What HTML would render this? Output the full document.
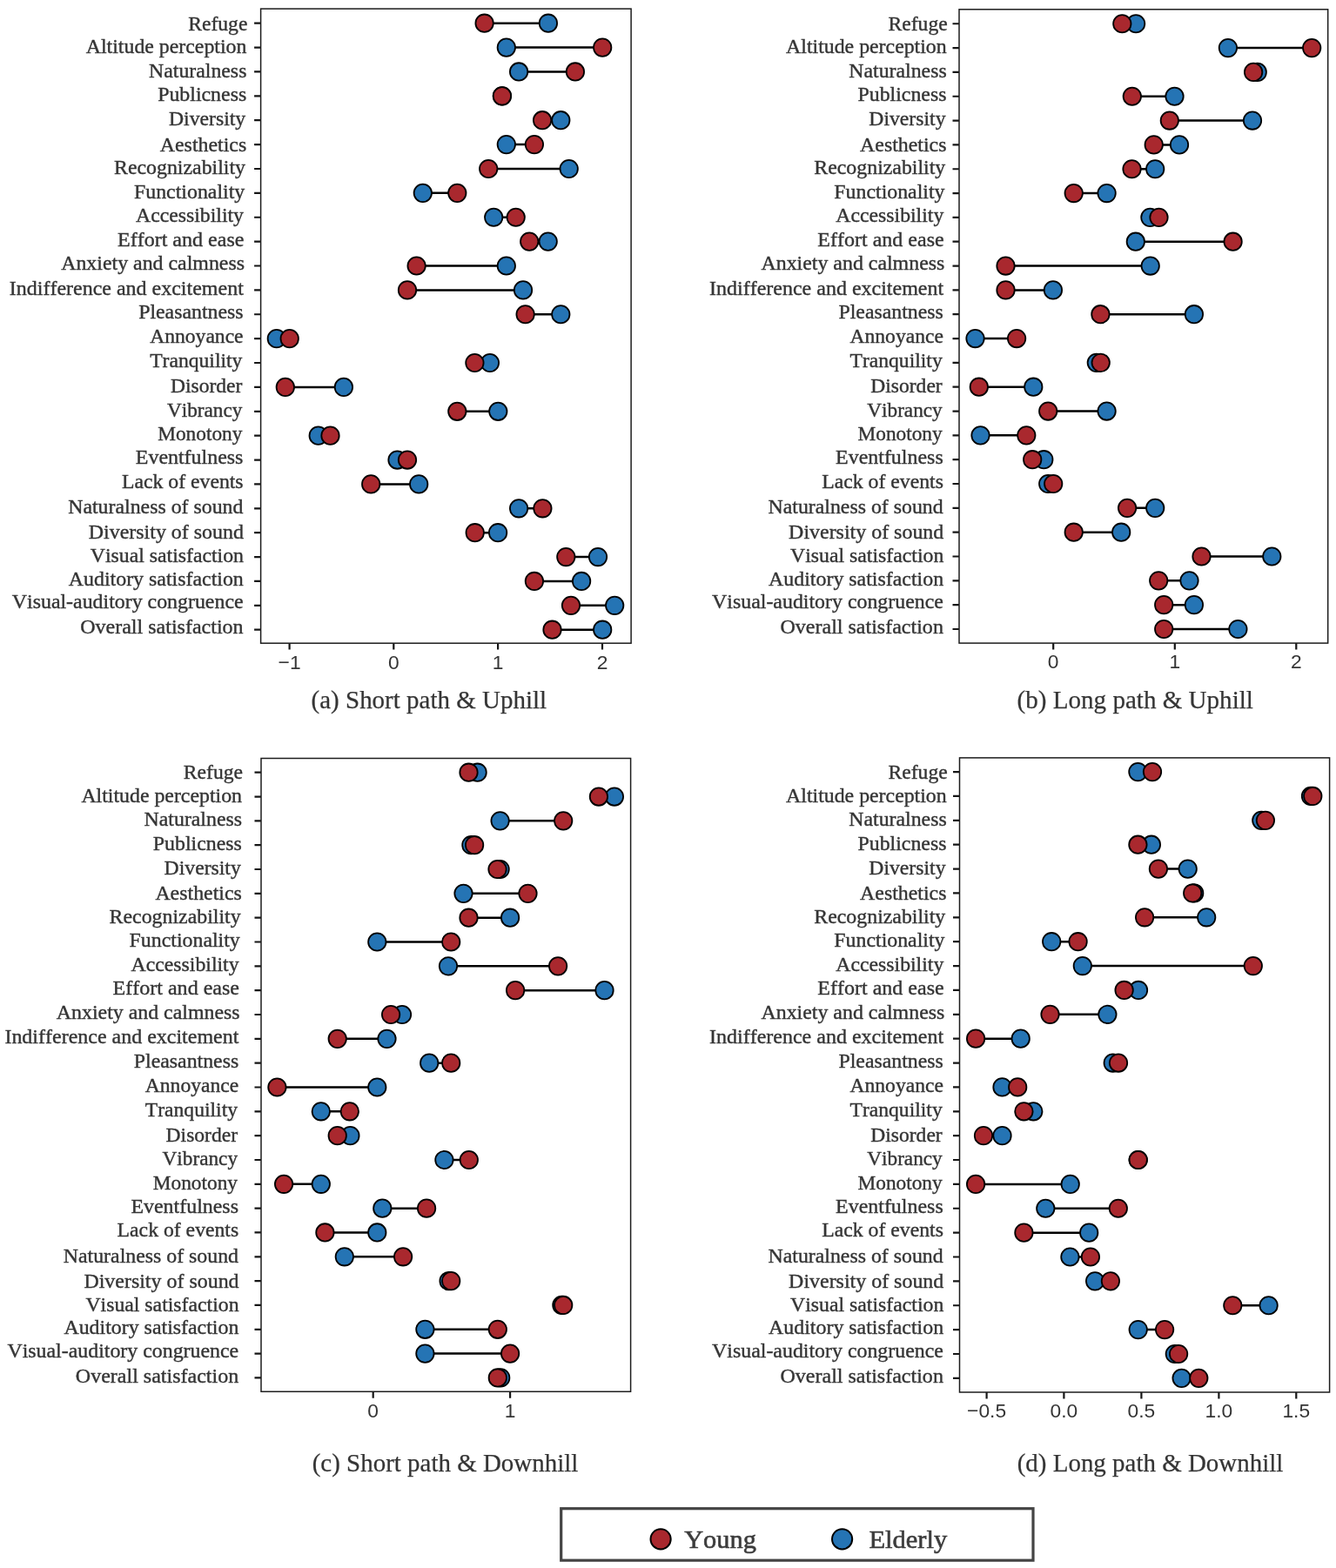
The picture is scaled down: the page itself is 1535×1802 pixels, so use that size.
<!DOCTYPE html>
<html lang="en"><head><meta charset="utf-8"><title>Perception scores by age group</title>
<style>html,body{margin:0;padding:0;background:#fff}svg{display:block}.yl{font-family:"Liberation Serif","DejaVu Serif",serif;font-size:23.5px;font-kerning:none;fill:#353535;stroke:#353535;stroke-width:.4px}.cap{font-family:"Liberation Serif","DejaVu Serif",serif;font-size:29.5px;font-kerning:none;fill:#353535;stroke:#353535;stroke-width:.25px}.lg{font-family:"Liberation Serif","DejaVu Serif",serif;font-size:30.2px;font-kerning:none;fill:#3c3c3c;stroke:#3c3c3c;stroke-width:.6px}.xt{font-family:"Liberation Sans","DejaVu Sans",sans-serif;font-size:22.8px;fill:#353535;text-anchor:middle}.fr{fill:none;stroke:#1c1c1c;stroke-width:1.5}.tk{stroke:#161616;stroke-width:2.2;fill:none}.ln{stroke:#000;stroke-width:2.5;fill:none}.y{fill:#A9282E;stroke:#000;stroke-width:1.8}.e{fill:#2574B4;stroke:#000;stroke-width:1.8}</style></head><body>
<svg width="1535" height="1802" viewBox="0 0 1535 1802">
<rect width="1535" height="1802" fill="#fff"/>
<g id="panel-a">
<path class="tk" d="M292.1 26.70H299.6M292.1 54.58H299.6M292.1 82.46H299.6M292.1 110.34H299.6M292.1 138.22H299.6M292.1 166.10H299.6M292.1 193.98H299.6M292.1 221.86H299.6M292.1 249.74H299.6M292.1 277.62H299.6M292.1 305.50H299.6M292.1 333.38H299.6M292.1 361.26H299.6M292.1 389.14H299.6M292.1 417.02H299.6M292.1 444.90H299.6M292.1 472.78H299.6M292.1 500.66H299.6M292.1 528.54H299.6M292.1 556.42H299.6M292.1 584.30H299.6M292.1 612.18H299.6M292.1 640.06H299.6M292.1 667.94H299.6M292.1 695.82H299.6M292.1 723.70H299.6M332.6 739.2V746.6M452.3 739.2V746.6M572.1 739.2V746.6M692.0 739.2V746.6"/>
<path class="ln" d="M556.6 26.70H629.9M581.8 54.58H692.2M596.1 82.46H660.9M623.1 138.22H644.3M581.8 166.10H613.9M561.2 193.98H653.7M485.8 221.86H525.3M567.2 249.74H592.7M608.2 277.62H629.7M478.6 305.50H581.8M468.0 333.38H601.0M603.6 361.26H644.3M317.8 389.14H332.7M545.4 417.02H562.9M327.8 444.90H394.9M525.3 472.78H572.3M365.7 500.66H379.5M456.5 528.54H468.0M426.2 556.42H481.2M596.1 584.30H623.4M545.7 612.18H572.1M650.3 640.06H687.0M613.9 667.94H668.1M656.0 695.82H706.2M634.5 723.70H692.2"/>
<circle class="e" cx="629.9" cy="26.70" r="10.2"/>
<circle class="e" cx="581.8" cy="54.58" r="10.2"/>
<circle class="e" cx="596.1" cy="82.46" r="10.2"/>
<circle class="e" cx="576.9" cy="110.34" r="10.2"/>
<circle class="e" cx="644.3" cy="138.22" r="10.2"/>
<circle class="e" cx="581.8" cy="166.10" r="10.2"/>
<circle class="e" cx="653.7" cy="193.98" r="10.2"/>
<circle class="e" cx="485.8" cy="221.86" r="10.2"/>
<circle class="e" cx="567.2" cy="249.74" r="10.2"/>
<circle class="e" cx="629.7" cy="277.62" r="10.2"/>
<circle class="e" cx="581.8" cy="305.50" r="10.2"/>
<circle class="e" cx="601.0" cy="333.38" r="10.2"/>
<circle class="e" cx="644.3" cy="361.26" r="10.2"/>
<circle class="e" cx="317.8" cy="389.14" r="10.2"/>
<circle class="e" cx="562.9" cy="417.02" r="10.2"/>
<circle class="e" cx="394.9" cy="444.90" r="10.2"/>
<circle class="e" cx="572.3" cy="472.78" r="10.2"/>
<circle class="e" cx="365.7" cy="500.66" r="10.2"/>
<circle class="e" cx="456.5" cy="528.54" r="10.2"/>
<circle class="e" cx="481.2" cy="556.42" r="10.2"/>
<circle class="e" cx="596.1" cy="584.30" r="10.2"/>
<circle class="e" cx="572.1" cy="612.18" r="10.2"/>
<circle class="e" cx="687.0" cy="640.06" r="10.2"/>
<circle class="e" cx="668.1" cy="667.94" r="10.2"/>
<circle class="e" cx="706.2" cy="695.82" r="10.2"/>
<circle class="e" cx="692.2" cy="723.70" r="10.2"/>
<circle class="y" cx="556.6" cy="26.70" r="10.2"/>
<circle class="y" cx="692.2" cy="54.58" r="10.2"/>
<circle class="y" cx="660.9" cy="82.46" r="10.2"/>
<circle class="y" cx="576.9" cy="110.34" r="10.2"/>
<circle class="y" cx="623.1" cy="138.22" r="10.2"/>
<circle class="y" cx="613.9" cy="166.10" r="10.2"/>
<circle class="y" cx="561.2" cy="193.98" r="10.2"/>
<circle class="y" cx="525.3" cy="221.86" r="10.2"/>
<circle class="y" cx="592.7" cy="249.74" r="10.2"/>
<circle class="y" cx="608.2" cy="277.62" r="10.2"/>
<circle class="y" cx="478.6" cy="305.50" r="10.2"/>
<circle class="y" cx="468.0" cy="333.38" r="10.2"/>
<circle class="y" cx="603.6" cy="361.26" r="10.2"/>
<circle class="y" cx="332.7" cy="389.14" r="10.2"/>
<circle class="y" cx="545.4" cy="417.02" r="10.2"/>
<circle class="y" cx="327.8" cy="444.90" r="10.2"/>
<circle class="y" cx="525.3" cy="472.78" r="10.2"/>
<circle class="y" cx="379.5" cy="500.66" r="10.2"/>
<circle class="y" cx="468.0" cy="528.54" r="10.2"/>
<circle class="y" cx="426.2" cy="556.42" r="10.2"/>
<circle class="y" cx="623.4" cy="584.30" r="10.2"/>
<circle class="y" cx="545.7" cy="612.18" r="10.2"/>
<circle class="y" cx="650.3" cy="640.06" r="10.2"/>
<circle class="y" cx="613.9" cy="667.94" r="10.2"/>
<circle class="y" cx="656.0" cy="695.82" r="10.2"/>
<circle class="y" cx="634.5" cy="723.70" r="10.2"/>
<rect class="fr" x="299.6" y="10.1" width="425.5" height="729.1"/>
<text class="xt" x="332.6" y="768.7">−1</text>
<text class="xt" x="452.3" y="768.7">0</text>
<text class="xt" x="572.1" y="768.7">1</text>
<text class="xt" x="692.0" y="768.7">2</text>
<text class="yl" x="216.20" y="34.7" textLength="68.20" lengthAdjust="spacingAndGlyphs">Refuge</text>
<text class="yl" x="98.80" y="61.3" textLength="184.60" lengthAdjust="spacingAndGlyphs">Altitude perception</text>
<text class="yl" x="171.00" y="88.5" textLength="112.40" lengthAdjust="spacingAndGlyphs">Naturalness</text>
<text class="yl" x="181.20" y="115.9" textLength="102.00" lengthAdjust="spacingAndGlyphs">Publicness</text>
<text class="yl" x="194.00" y="144.3" textLength="88.20" lengthAdjust="spacingAndGlyphs">Diversity</text>
<text class="yl" x="183.80" y="173.7" textLength="99.40" lengthAdjust="spacingAndGlyphs">Aesthetics</text>
<text class="yl" x="131.00" y="199.9" textLength="151.00" lengthAdjust="spacingAndGlyphs">Recognizability</text>
<text class="yl" x="154.00" y="227.5" textLength="127.20" lengthAdjust="spacingAndGlyphs">Functionality</text>
<text class="yl" x="156.00" y="255.1" textLength="124.00" lengthAdjust="spacingAndGlyphs">Accessibility</text>
<text class="yl" x="135.00" y="282.7" textLength="145.40" lengthAdjust="spacingAndGlyphs">Effort and ease</text>
<text class="yl" x="70.20" y="310.1" textLength="210.80" lengthAdjust="spacingAndGlyphs">Anxiety and calmness</text>
<text class="yl" x="10.80" y="338.7" textLength="269.00" lengthAdjust="spacingAndGlyphs">Indifference and excitement</text>
<text class="yl" x="159.20" y="366.3" textLength="120.40" lengthAdjust="spacingAndGlyphs">Pleasantness</text>
<text class="yl" x="172.20" y="394.3" textLength="107.40" lengthAdjust="spacingAndGlyphs">Annoyance</text>
<text class="yl" x="172.20" y="422.1" textLength="106.20" lengthAdjust="spacingAndGlyphs">Tranquility</text>
<text class="yl" x="196.00" y="451.3" textLength="82.40" lengthAdjust="spacingAndGlyphs">Disorder</text>
<text class="yl" x="192.00" y="478.7" textLength="86.40" lengthAdjust="spacingAndGlyphs">Vibrancy</text>
<text class="yl" x="181.20" y="505.9" textLength="97.20" lengthAdjust="spacingAndGlyphs">Monotony</text>
<text class="yl" x="155.80" y="533.1" textLength="123.60" lengthAdjust="spacingAndGlyphs">Eventfulness</text>
<text class="yl" x="140.00" y="560.7" textLength="139.60" lengthAdjust="spacingAndGlyphs">Lack of events</text>
<text class="yl" x="78.20" y="590.3" textLength="201.20" lengthAdjust="spacingAndGlyphs">Naturalness of sound</text>
<text class="yl" x="101.80" y="619.1" textLength="178.20" lengthAdjust="spacingAndGlyphs">Diversity of sound</text>
<text class="yl" x="103.80" y="646.3" textLength="176.20" lengthAdjust="spacingAndGlyphs">Visual satisfaction</text>
<text class="yl" x="78.80" y="672.8" textLength="201.00" lengthAdjust="spacingAndGlyphs">Auditory satisfaction</text>
<text class="yl" x="13.80" y="699.3" textLength="265.80" lengthAdjust="spacingAndGlyphs">Visual-auditory congruence</text>
<text class="yl" x="92.20" y="728.3" textLength="187.40" lengthAdjust="spacingAndGlyphs">Overall satisfaction</text>
</g>
<g id="panel-b">
<path class="tk" d="M1094.5 27.25H1102.0M1094.5 55.08H1102.0M1094.5 82.91H1102.0M1094.5 110.74H1102.0M1094.5 138.57H1102.0M1094.5 166.40H1102.0M1094.5 194.23H1102.0M1094.5 222.06H1102.0M1094.5 249.89H1102.0M1094.5 277.72H1102.0M1094.5 305.55H1102.0M1094.5 333.38H1102.0M1094.5 361.21H1102.0M1094.5 389.04H1102.0M1094.5 416.87H1102.0M1094.5 444.70H1102.0M1094.5 472.53H1102.0M1094.5 500.36H1102.0M1094.5 528.19H1102.0M1094.5 556.02H1102.0M1094.5 583.85H1102.0M1094.5 611.68H1102.0M1094.5 639.51H1102.0M1094.5 667.34H1102.0M1094.5 695.17H1102.0M1094.5 723.00H1102.0M1210.2 739.1V746.5M1349.8 739.1V746.5M1489.3 739.1V746.5"/>
<path class="ln" d="M1289.3 27.25H1305.1M1410.9 55.08H1507.2M1440.1 82.91H1444.7M1300.8 110.74H1349.5M1343.8 138.57H1439.0M1325.7 166.40H1355.0M1300.5 194.23H1327.2M1233.7 222.06H1271.6M1321.4 249.89H1331.5M1304.8 277.72H1416.6M1155.5 305.55H1321.7M1155.5 333.38H1209.9M1264.4 361.21H1371.9M1120.5 389.04H1168.1M1259.8 416.87H1264.7M1124.8 444.70H1187.3M1204.2 472.53H1271.6M1126.5 500.36H1179.3M1186.2 528.19H1199.3M1204.2 556.02H1210.2M1295.1 583.85H1327.2M1233.7 611.68H1288.2M1380.5 639.51H1461.3M1331.2 667.34H1366.5M1337.2 695.17H1371.9M1337.2 723.00H1422.4"/>
<circle class="e" cx="1305.1" cy="27.25" r="10.2"/>
<circle class="e" cx="1410.9" cy="55.08" r="10.2"/>
<circle class="e" cx="1444.7" cy="82.91" r="10.2"/>
<circle class="e" cx="1349.5" cy="110.74" r="10.2"/>
<circle class="e" cx="1439.0" cy="138.57" r="10.2"/>
<circle class="e" cx="1355.0" cy="166.40" r="10.2"/>
<circle class="e" cx="1327.2" cy="194.23" r="10.2"/>
<circle class="e" cx="1271.6" cy="222.06" r="10.2"/>
<circle class="e" cx="1321.4" cy="249.89" r="10.2"/>
<circle class="e" cx="1304.8" cy="277.72" r="10.2"/>
<circle class="e" cx="1321.7" cy="305.55" r="10.2"/>
<circle class="e" cx="1209.9" cy="333.38" r="10.2"/>
<circle class="e" cx="1371.9" cy="361.21" r="10.2"/>
<circle class="e" cx="1120.5" cy="389.04" r="10.2"/>
<circle class="e" cx="1259.8" cy="416.87" r="10.2"/>
<circle class="e" cx="1187.3" cy="444.70" r="10.2"/>
<circle class="e" cx="1271.6" cy="472.53" r="10.2"/>
<circle class="e" cx="1126.5" cy="500.36" r="10.2"/>
<circle class="e" cx="1199.3" cy="528.19" r="10.2"/>
<circle class="e" cx="1204.2" cy="556.02" r="10.2"/>
<circle class="e" cx="1327.2" cy="583.85" r="10.2"/>
<circle class="e" cx="1288.2" cy="611.68" r="10.2"/>
<circle class="e" cx="1461.3" cy="639.51" r="10.2"/>
<circle class="e" cx="1366.5" cy="667.34" r="10.2"/>
<circle class="e" cx="1371.9" cy="695.17" r="10.2"/>
<circle class="e" cx="1422.4" cy="723.00" r="10.2"/>
<circle class="y" cx="1289.3" cy="27.25" r="10.2"/>
<circle class="y" cx="1507.2" cy="55.08" r="10.2"/>
<circle class="y" cx="1440.1" cy="82.91" r="10.2"/>
<circle class="y" cx="1300.8" cy="110.74" r="10.2"/>
<circle class="y" cx="1343.8" cy="138.57" r="10.2"/>
<circle class="y" cx="1325.7" cy="166.40" r="10.2"/>
<circle class="y" cx="1300.5" cy="194.23" r="10.2"/>
<circle class="y" cx="1233.7" cy="222.06" r="10.2"/>
<circle class="y" cx="1331.5" cy="249.89" r="10.2"/>
<circle class="y" cx="1416.6" cy="277.72" r="10.2"/>
<circle class="y" cx="1155.5" cy="305.55" r="10.2"/>
<circle class="y" cx="1155.5" cy="333.38" r="10.2"/>
<circle class="y" cx="1264.4" cy="361.21" r="10.2"/>
<circle class="y" cx="1168.1" cy="389.04" r="10.2"/>
<circle class="y" cx="1264.7" cy="416.87" r="10.2"/>
<circle class="y" cx="1124.8" cy="444.70" r="10.2"/>
<circle class="y" cx="1204.2" cy="472.53" r="10.2"/>
<circle class="y" cx="1179.3" cy="500.36" r="10.2"/>
<circle class="y" cx="1186.2" cy="528.19" r="10.2"/>
<circle class="y" cx="1210.2" cy="556.02" r="10.2"/>
<circle class="y" cx="1295.1" cy="583.85" r="10.2"/>
<circle class="y" cx="1233.7" cy="611.68" r="10.2"/>
<circle class="y" cx="1380.5" cy="639.51" r="10.2"/>
<circle class="y" cx="1331.2" cy="667.34" r="10.2"/>
<circle class="y" cx="1337.2" cy="695.17" r="10.2"/>
<circle class="y" cx="1337.2" cy="723.00" r="10.2"/>
<rect class="fr" x="1102.0" y="10.8" width="423.7" height="728.3"/>
<text class="xt" x="1210.2" y="768.2">0</text>
<text class="xt" x="1349.8" y="768.2">1</text>
<text class="xt" x="1489.3" y="768.2">2</text>
<text class="yl" x="1020.50" y="34.7" textLength="68.20" lengthAdjust="spacingAndGlyphs">Refuge</text>
<text class="yl" x="903.10" y="61.3" textLength="184.60" lengthAdjust="spacingAndGlyphs">Altitude perception</text>
<text class="yl" x="975.30" y="88.5" textLength="112.40" lengthAdjust="spacingAndGlyphs">Naturalness</text>
<text class="yl" x="985.50" y="115.9" textLength="102.00" lengthAdjust="spacingAndGlyphs">Publicness</text>
<text class="yl" x="998.30" y="144.3" textLength="88.20" lengthAdjust="spacingAndGlyphs">Diversity</text>
<text class="yl" x="988.10" y="173.7" textLength="99.40" lengthAdjust="spacingAndGlyphs">Aesthetics</text>
<text class="yl" x="935.30" y="199.9" textLength="151.00" lengthAdjust="spacingAndGlyphs">Recognizability</text>
<text class="yl" x="958.30" y="227.5" textLength="127.20" lengthAdjust="spacingAndGlyphs">Functionality</text>
<text class="yl" x="960.30" y="255.1" textLength="124.00" lengthAdjust="spacingAndGlyphs">Accessibility</text>
<text class="yl" x="939.30" y="282.7" textLength="145.40" lengthAdjust="spacingAndGlyphs">Effort and ease</text>
<text class="yl" x="874.50" y="310.1" textLength="210.80" lengthAdjust="spacingAndGlyphs">Anxiety and calmness</text>
<text class="yl" x="815.10" y="338.7" textLength="269.00" lengthAdjust="spacingAndGlyphs">Indifference and excitement</text>
<text class="yl" x="963.50" y="366.3" textLength="120.40" lengthAdjust="spacingAndGlyphs">Pleasantness</text>
<text class="yl" x="976.50" y="394.3" textLength="107.40" lengthAdjust="spacingAndGlyphs">Annoyance</text>
<text class="yl" x="976.50" y="422.1" textLength="106.20" lengthAdjust="spacingAndGlyphs">Tranquility</text>
<text class="yl" x="1000.30" y="451.3" textLength="82.40" lengthAdjust="spacingAndGlyphs">Disorder</text>
<text class="yl" x="996.30" y="478.7" textLength="86.40" lengthAdjust="spacingAndGlyphs">Vibrancy</text>
<text class="yl" x="985.50" y="505.9" textLength="97.20" lengthAdjust="spacingAndGlyphs">Monotony</text>
<text class="yl" x="960.10" y="533.1" textLength="123.60" lengthAdjust="spacingAndGlyphs">Eventfulness</text>
<text class="yl" x="944.30" y="560.7" textLength="139.60" lengthAdjust="spacingAndGlyphs">Lack of events</text>
<text class="yl" x="882.50" y="590.3" textLength="201.20" lengthAdjust="spacingAndGlyphs">Naturalness of sound</text>
<text class="yl" x="906.10" y="619.1" textLength="178.20" lengthAdjust="spacingAndGlyphs">Diversity of sound</text>
<text class="yl" x="908.10" y="646.3" textLength="176.20" lengthAdjust="spacingAndGlyphs">Visual satisfaction</text>
<text class="yl" x="883.10" y="672.8" textLength="201.00" lengthAdjust="spacingAndGlyphs">Auditory satisfaction</text>
<text class="yl" x="818.10" y="699.3" textLength="265.80" lengthAdjust="spacingAndGlyphs">Visual-auditory congruence</text>
<text class="yl" x="896.50" y="728.3" textLength="187.40" lengthAdjust="spacingAndGlyphs">Overall satisfaction</text>
</g>
<g id="panel-c">
<path class="tk" d="M292.5 887.70H300.0M292.5 915.53H300.0M292.5 943.36H300.0M292.5 971.19H300.0M292.5 999.02H300.0M292.5 1026.85H300.0M292.5 1054.68H300.0M292.5 1082.51H300.0M292.5 1110.34H300.0M292.5 1138.17H300.0M292.5 1166.00H300.0M292.5 1193.83H300.0M292.5 1221.66H300.0M292.5 1249.49H300.0M292.5 1277.32H300.0M292.5 1305.15H300.0M292.5 1332.98H300.0M292.5 1360.81H300.0M292.5 1388.64H300.0M292.5 1416.47H300.0M292.5 1444.30H300.0M292.5 1472.13H300.0M292.5 1499.96H300.0M292.5 1527.79H300.0M292.5 1555.62H300.0M292.5 1583.45H300.0M428.7 1599.3V1606.7M586.1 1599.3V1606.7"/>
<path class="ln" d="M538.5 887.70H548.6M687.9 915.53H705.9M574.6 943.36H647.2M541.4 971.19H545.1M571.5 999.02H574.6M532.5 1026.85H606.5M538.5 1054.68H586.1M433.3 1082.51H518.2M515.0 1110.34H641.1M592.1 1138.17H694.5M449.1 1166.00H462.0M387.7 1193.83H444.5M493.2 1221.66H518.2M318.4 1249.49H433.3M368.8 1277.32H401.8M387.7 1305.15H402.4M510.4 1332.98H538.8M326.1 1360.81H368.8M439.3 1388.64H490.1M373.4 1416.47H433.3M395.8 1444.30H463.1M515.6 1472.13H518.2M645.4 1499.96H647.2M488.4 1527.79H571.8M488.4 1555.62H586.1M571.8 1583.45H575.2"/>
<circle class="e" cx="548.6" cy="887.70" r="10.2"/>
<circle class="e" cx="705.9" cy="915.53" r="10.2"/>
<circle class="e" cx="574.6" cy="943.36" r="10.2"/>
<circle class="e" cx="541.4" cy="971.19" r="10.2"/>
<circle class="e" cx="574.6" cy="999.02" r="10.2"/>
<circle class="e" cx="532.5" cy="1026.85" r="10.2"/>
<circle class="e" cx="586.1" cy="1054.68" r="10.2"/>
<circle class="e" cx="433.3" cy="1082.51" r="10.2"/>
<circle class="e" cx="515.0" cy="1110.34" r="10.2"/>
<circle class="e" cx="694.5" cy="1138.17" r="10.2"/>
<circle class="e" cx="462.0" cy="1166.00" r="10.2"/>
<circle class="e" cx="444.5" cy="1193.83" r="10.2"/>
<circle class="e" cx="493.2" cy="1221.66" r="10.2"/>
<circle class="e" cx="433.3" cy="1249.49" r="10.2"/>
<circle class="e" cx="368.8" cy="1277.32" r="10.2"/>
<circle class="e" cx="402.4" cy="1305.15" r="10.2"/>
<circle class="e" cx="510.4" cy="1332.98" r="10.2"/>
<circle class="e" cx="368.8" cy="1360.81" r="10.2"/>
<circle class="e" cx="439.3" cy="1388.64" r="10.2"/>
<circle class="e" cx="433.3" cy="1416.47" r="10.2"/>
<circle class="e" cx="395.8" cy="1444.30" r="10.2"/>
<circle class="e" cx="515.6" cy="1472.13" r="10.2"/>
<circle class="e" cx="645.4" cy="1499.96" r="10.2"/>
<circle class="e" cx="488.4" cy="1527.79" r="10.2"/>
<circle class="e" cx="488.4" cy="1555.62" r="10.2"/>
<circle class="e" cx="575.2" cy="1583.45" r="10.2"/>
<circle class="y" cx="538.5" cy="887.70" r="10.2"/>
<circle class="y" cx="687.9" cy="915.53" r="10.2"/>
<circle class="y" cx="647.2" cy="943.36" r="10.2"/>
<circle class="y" cx="545.1" cy="971.19" r="10.2"/>
<circle class="y" cx="571.5" cy="999.02" r="10.2"/>
<circle class="y" cx="606.5" cy="1026.85" r="10.2"/>
<circle class="y" cx="538.5" cy="1054.68" r="10.2"/>
<circle class="y" cx="518.2" cy="1082.51" r="10.2"/>
<circle class="y" cx="641.1" cy="1110.34" r="10.2"/>
<circle class="y" cx="592.1" cy="1138.17" r="10.2"/>
<circle class="y" cx="449.1" cy="1166.00" r="10.2"/>
<circle class="y" cx="387.7" cy="1193.83" r="10.2"/>
<circle class="y" cx="518.2" cy="1221.66" r="10.2"/>
<circle class="y" cx="318.4" cy="1249.49" r="10.2"/>
<circle class="y" cx="401.8" cy="1277.32" r="10.2"/>
<circle class="y" cx="387.7" cy="1305.15" r="10.2"/>
<circle class="y" cx="538.8" cy="1332.98" r="10.2"/>
<circle class="y" cx="326.1" cy="1360.81" r="10.2"/>
<circle class="y" cx="490.1" cy="1388.64" r="10.2"/>
<circle class="y" cx="373.4" cy="1416.47" r="10.2"/>
<circle class="y" cx="463.1" cy="1444.30" r="10.2"/>
<circle class="y" cx="518.2" cy="1472.13" r="10.2"/>
<circle class="y" cx="647.2" cy="1499.96" r="10.2"/>
<circle class="y" cx="571.8" cy="1527.79" r="10.2"/>
<circle class="y" cx="586.1" cy="1555.62" r="10.2"/>
<circle class="y" cx="571.8" cy="1583.45" r="10.2"/>
<rect class="fr" x="300.0" y="871.5" width="424.6" height="727.8"/>
<text class="xt" x="428.7" y="1629.0">0</text>
<text class="xt" x="586.1" y="1629.0">1</text>
<text class="yl" x="210.80" y="895.3" textLength="68.20" lengthAdjust="spacingAndGlyphs">Refuge</text>
<text class="yl" x="93.40" y="921.9" textLength="184.60" lengthAdjust="spacingAndGlyphs">Altitude perception</text>
<text class="yl" x="165.60" y="949.1" textLength="112.40" lengthAdjust="spacingAndGlyphs">Naturalness</text>
<text class="yl" x="175.80" y="976.5" textLength="102.00" lengthAdjust="spacingAndGlyphs">Publicness</text>
<text class="yl" x="188.60" y="1004.9" textLength="88.20" lengthAdjust="spacingAndGlyphs">Diversity</text>
<text class="yl" x="178.40" y="1034.3" textLength="99.40" lengthAdjust="spacingAndGlyphs">Aesthetics</text>
<text class="yl" x="125.60" y="1060.5" textLength="151.00" lengthAdjust="spacingAndGlyphs">Recognizability</text>
<text class="yl" x="148.60" y="1088.1" textLength="127.20" lengthAdjust="spacingAndGlyphs">Functionality</text>
<text class="yl" x="150.60" y="1115.7" textLength="124.00" lengthAdjust="spacingAndGlyphs">Accessibility</text>
<text class="yl" x="129.60" y="1143.3" textLength="145.40" lengthAdjust="spacingAndGlyphs">Effort and ease</text>
<text class="yl" x="64.80" y="1170.7" textLength="210.80" lengthAdjust="spacingAndGlyphs">Anxiety and calmness</text>
<text class="yl" x="5.40" y="1199.3" textLength="269.00" lengthAdjust="spacingAndGlyphs">Indifference and excitement</text>
<text class="yl" x="153.80" y="1226.9" textLength="120.40" lengthAdjust="spacingAndGlyphs">Pleasantness</text>
<text class="yl" x="166.80" y="1254.9" textLength="107.40" lengthAdjust="spacingAndGlyphs">Annoyance</text>
<text class="yl" x="166.80" y="1282.7" textLength="106.20" lengthAdjust="spacingAndGlyphs">Tranquility</text>
<text class="yl" x="190.60" y="1311.9" textLength="82.40" lengthAdjust="spacingAndGlyphs">Disorder</text>
<text class="yl" x="186.60" y="1339.3" textLength="86.40" lengthAdjust="spacingAndGlyphs">Vibrancy</text>
<text class="yl" x="175.80" y="1366.5" textLength="97.20" lengthAdjust="spacingAndGlyphs">Monotony</text>
<text class="yl" x="150.40" y="1393.7" textLength="123.60" lengthAdjust="spacingAndGlyphs">Eventfulness</text>
<text class="yl" x="134.60" y="1421.3" textLength="139.60" lengthAdjust="spacingAndGlyphs">Lack of events</text>
<text class="yl" x="72.80" y="1450.9" textLength="201.20" lengthAdjust="spacingAndGlyphs">Naturalness of sound</text>
<text class="yl" x="96.40" y="1479.7" textLength="178.20" lengthAdjust="spacingAndGlyphs">Diversity of sound</text>
<text class="yl" x="98.40" y="1506.9" textLength="176.20" lengthAdjust="spacingAndGlyphs">Visual satisfaction</text>
<text class="yl" x="73.40" y="1533.4" textLength="201.00" lengthAdjust="spacingAndGlyphs">Auditory satisfaction</text>
<text class="yl" x="8.40" y="1559.9" textLength="265.80" lengthAdjust="spacingAndGlyphs">Visual-auditory congruence</text>
<text class="yl" x="86.80" y="1588.9" textLength="187.40" lengthAdjust="spacingAndGlyphs">Overall satisfaction</text>
</g>
<g id="panel-d">
<path class="tk" d="M1095.0 887.10H1102.5M1095.0 914.97H1102.5M1095.0 942.84H1102.5M1095.0 970.71H1102.5M1095.0 998.58H1102.5M1095.0 1026.45H1102.5M1095.0 1054.32H1102.5M1095.0 1082.19H1102.5M1095.0 1110.06H1102.5M1095.0 1137.93H1102.5M1095.0 1165.80H1102.5M1095.0 1193.67H1102.5M1095.0 1221.54H1102.5M1095.0 1249.41H1102.5M1095.0 1277.28H1102.5M1095.0 1305.15H1102.5M1095.0 1333.02H1102.5M1095.0 1360.89H1102.5M1095.0 1388.76H1102.5M1095.0 1416.63H1102.5M1095.0 1444.50H1102.5M1095.0 1472.37H1102.5M1095.0 1500.24H1102.5M1095.0 1528.11H1102.5M1095.0 1555.98H1102.5M1095.0 1583.85H1102.5M1133.6 1600.0V1607.4M1222.4 1600.0V1607.4M1311.4 1600.0V1607.4M1400.4 1600.0V1607.4M1489.3 1600.0V1607.4"/>
<path class="ln" d="M1307.4 887.10H1324.0M1506.0 914.97H1508.3M1449.3 942.84H1453.9M1307.4 970.71H1322.9M1330.9 998.58H1364.7M1370.2 1026.45H1372.2M1315.1 1054.32H1386.2M1208.2 1082.19H1238.6M1243.8 1110.06H1439.8M1291.6 1137.93H1308.0M1206.5 1165.80H1272.4M1121.1 1193.67H1172.7M1278.7 1221.54H1285.0M1151.5 1249.41H1169.2M1176.4 1277.28H1187.3M1130.0 1305.15H1151.5M1121.1 1360.89H1229.7M1201.3 1388.76H1284.8M1176.4 1416.63H1251.2M1229.4 1444.50H1252.9M1258.1 1472.37H1275.9M1416.3 1500.24H1457.6M1307.7 1528.11H1338.1M1349.8 1555.98H1354.1M1357.6 1583.85H1377.3"/>
<circle class="e" cx="1307.4" cy="887.10" r="10.2"/>
<circle class="e" cx="1506.0" cy="914.97" r="10.2"/>
<circle class="e" cx="1449.3" cy="942.84" r="10.2"/>
<circle class="e" cx="1322.9" cy="970.71" r="10.2"/>
<circle class="e" cx="1364.7" cy="998.58" r="10.2"/>
<circle class="e" cx="1372.2" cy="1026.45" r="10.2"/>
<circle class="e" cx="1386.2" cy="1054.32" r="10.2"/>
<circle class="e" cx="1208.2" cy="1082.19" r="10.2"/>
<circle class="e" cx="1243.8" cy="1110.06" r="10.2"/>
<circle class="e" cx="1308.0" cy="1137.93" r="10.2"/>
<circle class="e" cx="1272.4" cy="1165.80" r="10.2"/>
<circle class="e" cx="1172.7" cy="1193.67" r="10.2"/>
<circle class="e" cx="1278.7" cy="1221.54" r="10.2"/>
<circle class="e" cx="1151.5" cy="1249.41" r="10.2"/>
<circle class="e" cx="1187.3" cy="1277.28" r="10.2"/>
<circle class="e" cx="1151.5" cy="1305.15" r="10.2"/>
<circle class="e" cx="1307.7" cy="1333.02" r="10.2"/>
<circle class="e" cx="1229.7" cy="1360.89" r="10.2"/>
<circle class="e" cx="1201.3" cy="1388.76" r="10.2"/>
<circle class="e" cx="1251.2" cy="1416.63" r="10.2"/>
<circle class="e" cx="1229.4" cy="1444.50" r="10.2"/>
<circle class="e" cx="1258.1" cy="1472.37" r="10.2"/>
<circle class="e" cx="1457.6" cy="1500.24" r="10.2"/>
<circle class="e" cx="1307.7" cy="1528.11" r="10.2"/>
<circle class="e" cx="1349.8" cy="1555.98" r="10.2"/>
<circle class="e" cx="1357.6" cy="1583.85" r="10.2"/>
<circle class="y" cx="1324.0" cy="887.10" r="10.2"/>
<circle class="y" cx="1508.3" cy="914.97" r="10.2"/>
<circle class="y" cx="1453.9" cy="942.84" r="10.2"/>
<circle class="y" cx="1307.4" cy="970.71" r="10.2"/>
<circle class="y" cx="1330.9" cy="998.58" r="10.2"/>
<circle class="y" cx="1370.2" cy="1026.45" r="10.2"/>
<circle class="y" cx="1315.1" cy="1054.32" r="10.2"/>
<circle class="y" cx="1238.6" cy="1082.19" r="10.2"/>
<circle class="y" cx="1439.8" cy="1110.06" r="10.2"/>
<circle class="y" cx="1291.6" cy="1137.93" r="10.2"/>
<circle class="y" cx="1206.5" cy="1165.80" r="10.2"/>
<circle class="y" cx="1121.1" cy="1193.67" r="10.2"/>
<circle class="y" cx="1285.0" cy="1221.54" r="10.2"/>
<circle class="y" cx="1169.2" cy="1249.41" r="10.2"/>
<circle class="y" cx="1176.4" cy="1277.28" r="10.2"/>
<circle class="y" cx="1130.0" cy="1305.15" r="10.2"/>
<circle class="y" cx="1307.7" cy="1333.02" r="10.2"/>
<circle class="y" cx="1121.1" cy="1360.89" r="10.2"/>
<circle class="y" cx="1284.8" cy="1388.76" r="10.2"/>
<circle class="y" cx="1176.4" cy="1416.63" r="10.2"/>
<circle class="y" cx="1252.9" cy="1444.50" r="10.2"/>
<circle class="y" cx="1275.9" cy="1472.37" r="10.2"/>
<circle class="y" cx="1416.3" cy="1500.24" r="10.2"/>
<circle class="y" cx="1338.1" cy="1528.11" r="10.2"/>
<circle class="y" cx="1354.1" cy="1555.98" r="10.2"/>
<circle class="y" cx="1377.3" cy="1583.85" r="10.2"/>
<rect class="fr" x="1102.5" y="870.9" width="425.1" height="729.1"/>
<text class="xt" x="1133.6" y="1629.0">−0.5</text>
<text class="xt" x="1222.4" y="1629.0">0.0</text>
<text class="xt" x="1311.4" y="1629.0">0.5</text>
<text class="xt" x="1400.4" y="1629.0">1.0</text>
<text class="xt" x="1489.3" y="1629.0">1.5</text>
<text class="yl" x="1020.50" y="895.3" textLength="68.20" lengthAdjust="spacingAndGlyphs">Refuge</text>
<text class="yl" x="903.10" y="921.9" textLength="184.60" lengthAdjust="spacingAndGlyphs">Altitude perception</text>
<text class="yl" x="975.30" y="949.1" textLength="112.40" lengthAdjust="spacingAndGlyphs">Naturalness</text>
<text class="yl" x="985.50" y="976.5" textLength="102.00" lengthAdjust="spacingAndGlyphs">Publicness</text>
<text class="yl" x="998.30" y="1004.9" textLength="88.20" lengthAdjust="spacingAndGlyphs">Diversity</text>
<text class="yl" x="988.10" y="1034.3" textLength="99.40" lengthAdjust="spacingAndGlyphs">Aesthetics</text>
<text class="yl" x="935.30" y="1060.5" textLength="151.00" lengthAdjust="spacingAndGlyphs">Recognizability</text>
<text class="yl" x="958.30" y="1088.1" textLength="127.20" lengthAdjust="spacingAndGlyphs">Functionality</text>
<text class="yl" x="960.30" y="1115.7" textLength="124.00" lengthAdjust="spacingAndGlyphs">Accessibility</text>
<text class="yl" x="939.30" y="1143.3" textLength="145.40" lengthAdjust="spacingAndGlyphs">Effort and ease</text>
<text class="yl" x="874.50" y="1170.7" textLength="210.80" lengthAdjust="spacingAndGlyphs">Anxiety and calmness</text>
<text class="yl" x="815.10" y="1199.3" textLength="269.00" lengthAdjust="spacingAndGlyphs">Indifference and excitement</text>
<text class="yl" x="963.50" y="1226.9" textLength="120.40" lengthAdjust="spacingAndGlyphs">Pleasantness</text>
<text class="yl" x="976.50" y="1254.9" textLength="107.40" lengthAdjust="spacingAndGlyphs">Annoyance</text>
<text class="yl" x="976.50" y="1282.7" textLength="106.20" lengthAdjust="spacingAndGlyphs">Tranquility</text>
<text class="yl" x="1000.30" y="1311.9" textLength="82.40" lengthAdjust="spacingAndGlyphs">Disorder</text>
<text class="yl" x="996.30" y="1339.3" textLength="86.40" lengthAdjust="spacingAndGlyphs">Vibrancy</text>
<text class="yl" x="985.50" y="1366.5" textLength="97.20" lengthAdjust="spacingAndGlyphs">Monotony</text>
<text class="yl" x="960.10" y="1393.7" textLength="123.60" lengthAdjust="spacingAndGlyphs">Eventfulness</text>
<text class="yl" x="944.30" y="1421.3" textLength="139.60" lengthAdjust="spacingAndGlyphs">Lack of events</text>
<text class="yl" x="882.50" y="1450.9" textLength="201.20" lengthAdjust="spacingAndGlyphs">Naturalness of sound</text>
<text class="yl" x="906.10" y="1479.7" textLength="178.20" lengthAdjust="spacingAndGlyphs">Diversity of sound</text>
<text class="yl" x="908.10" y="1506.9" textLength="176.20" lengthAdjust="spacingAndGlyphs">Visual satisfaction</text>
<text class="yl" x="883.10" y="1533.4" textLength="201.00" lengthAdjust="spacingAndGlyphs">Auditory satisfaction</text>
<text class="yl" x="818.10" y="1559.9" textLength="265.80" lengthAdjust="spacingAndGlyphs">Visual-auditory congruence</text>
<text class="yl" x="896.50" y="1588.9" textLength="187.40" lengthAdjust="spacingAndGlyphs">Overall satisfaction</text>
</g>
<text class="cap" x="357.60" y="813.8" textLength="270.50" lengthAdjust="spacingAndGlyphs">(a) Short path &amp; Uphill</text>
<text class="cap" x="1168.60" y="813.8" textLength="271.30" lengthAdjust="spacingAndGlyphs">(b) Long path &amp; Uphill</text>
<text class="cap" x="358.70" y="1690.7" textLength="305.70" lengthAdjust="spacingAndGlyphs">(c) Short path &amp; Downhill</text>
<text class="cap" x="1168.70" y="1690.7" textLength="305.70" lengthAdjust="spacingAndGlyphs">(d) Long path &amp; Downhill</text>
<rect x="644.7" y="1733.7" width="542.3" height="59.5" fill="#fff" stroke="#444" stroke-width="3.2"/>
<circle cx="759.1" cy="1768.8" r="11.6" fill="#A9282E" stroke="#000" stroke-width="2"/>
<circle cx="967.6" cy="1768.8" r="11.6" fill="#2574B4" stroke="#000" stroke-width="2"/>
<text class="lg" x="786.20" y="1779.3" textLength="82.70" lengthAdjust="spacingAndGlyphs">Young</text>
<text class="lg" x="998.40" y="1779.3" textLength="89.80" lengthAdjust="spacingAndGlyphs">Elderly</text>
</svg></body></html>
